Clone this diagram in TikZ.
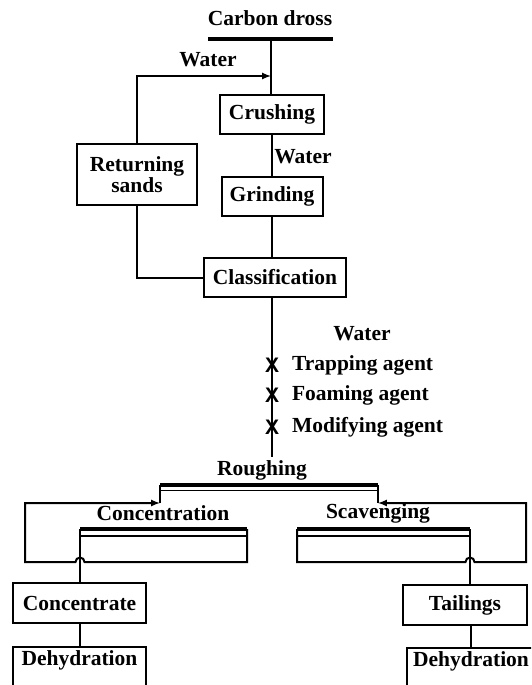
\documentclass[tikz,border=0pt]{standalone}
\usepackage{fontspec}
\setmainfont{Liberation Serif}
\newfontfamily\xfont{Liberation Sans}
\usepackage{tikz}
\tikzset{
	box/.style={draw, line width=2pt, inner sep=0pt},
	lbl/.style={inner sep=0pt},
	bar/.style={line width=3.2pt},
	xmark/.style={inner sep=0pt, font=\xfont\bfseries\fontsize{21}{21}\selectfont},
}
\def\Hl{arc [start angle=0, end angle=-180, radius=4.5]}
\def\Hr{arc [start angle=180, end angle=360, radius=4.5]}

\begin{document}
\begin{tikzpicture}[x=1pt, y=-1pt, line width=2pt, font=\fontsize{21.5}{24}\selectfont\bfseries]
	\useasboundingbox (0,0) rectangle (531,685);
	\clip (0,0) rectangle (531,685);

	\node[lbl] (dross) at (270,18) {Carbon dross};
	\node[box, minimum width=104, minimum height=39] (crush) at (272,114.5) {Crushing};
	\node[box, minimum width=101, minimum height=39] (grind) at (272,196.5) {Grinding};
	\node[box, minimum width=120, minimum height=61, align=center] (sands) at (137,174.5) {Returning\\[-3pt]sands};
	\node[box, minimum width=142, minimum height=39] (classif) at (275,277.5) {Classification};
	\node[box, minimum width=133, minimum height=40] (conc) at (79.5,603) {Concentrate};
	\node[box, minimum width=133, text height=15, text depth=26, inner ysep=4] (dehydA) at (79.5,671) {Dehydration};
	\node[box, minimum width=124, minimum height=40] (tail) at (465,605) {Tailings};
	\node[box, minimum width=128, text height=15, text depth=26, inner ysep=4] (dehydB) at (471,672) {Dehydration};

	\coordinate (drossbar) at (271,39);
	\coordinate (feed) at (271,76);
	\coordinate (pulp) at (272,457);
	\coordinate (concout) at (80,529);
	\coordinate (scavout) at (470,529);

	\draw[bar] (208,39) -- (333,39);
	\draw (drossbar) -- (drossbar |- crush.north);
	\draw[-latex] (sands.north) |- (feed);
	\node[lbl] (waterA) at (208,60) {Water};
	\draw (crush) -- (grind);
	\node[lbl] (waterB) at (303,157) {Water};
	\draw (grind.south) -- (grind.south |- classif.north);
	\draw (sands.south) |- (classif.west);
	\draw (classif.south -| pulp) -- (pulp);

	% reagents
	\node[lbl] (water) at (362,334) {Water};
	\foreach \y/\t in {365/Trapping agent, 395/Foaming agent, 427/Modifying agent} {
		\node[xmark] (x\y) at (272,\y) {X};
		\node[lbl, anchor=west] (r\y) at (291,\y) {\t};
	}

	% roughing cell
	\node[lbl] (rough) at (262,470) {Roughing};
	\draw[bar] (160,485) -- (378,485);
	\draw[line width=1.2pt] (160,490.5) -- (378,490.5);
	\draw (160,485) -- (160,503);
	\draw (378,485) -- (378,503);

	% concentration cell
	\node[lbl] (concl) at (163,513) {Concentration};
	\draw[bar] (concout) -- (247,529);
	\draw[line width=1.2pt] (80,536) -- (247,536);
	\draw[-latex] (247,529) -- (247,562) -- (84.5,562) \Hl -- (25,562) -- (25,503) -- (160,503);
	\draw (concout) -- (conc.north -| concout);
	\draw (conc.south -| concout) -- (dehydA.north -| concout);

	% scavenging cell
	\node[lbl] (scavl) at (378,513) {Scavenging};
	\draw[bar] (297,529) -- (scavout);
	\draw[line width=1.2pt] (297,536) -- (470,536);
	\draw[-latex] (297,529) -- (297,562) -- (465.5,562) \Hr -- (526,562) -- (526,503) -- (378,503);
	\draw (scavout) -- (scavout |- tail.north);
	\draw (tail.south -| dehydB) -- (dehydB.north);
\end{tikzpicture}
\end{document}
